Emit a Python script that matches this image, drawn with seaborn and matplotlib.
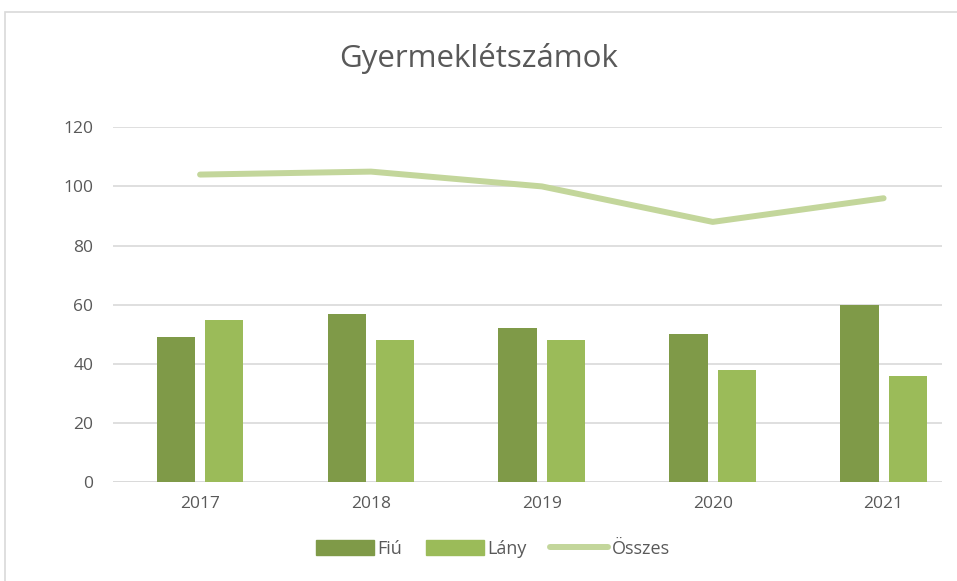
import numpy as np
import pandas as pd
import matplotlib.pyplot as plt
import seaborn as sns
from matplotlib.patches import Rectangle
from matplotlib.lines import Line2D

# Chart data
years = ["2017", "2018", "2019", "2020", "2021"]
fiu = [49, 57, 52, 50, 60]
lany = [55, 48, 48, 38, 36]
osszes = [104, 105, 100, 88, 96]

sns.set_style("white")
plt.rcParams['font.family'] = ['Open Sans', 'DejaVu Sans']
text_col = "#595959"

df = pd.DataFrame({
    "Év": years * 2,
    "Érték": fiu + lany,
    "Nem": ["Fiú"] * 5 + ["Lány"] * 5,
})

fig = plt.figure(figsize=(9.57, 5.81), dpi=100)
ax = fig.add_axes([0.118, 0.170, 0.866, 0.611])

sns.barplot(data=df, x="Év", y="Érték", hue="Nem", ax=ax,
            palette={"Fiú": "#7f9a48", "Lány": "#9bbb59"},
            width=0.566, gap=0.205, saturation=1, legend=False,
            linewidth=0, zorder=3)
sns.lineplot(x=np.arange(len(years)), y=osszes, ax=ax, color="#c3d69b",
             linewidth=4.3, solid_capstyle="round", zorder=4)

ax.set_ylim(0, 120)
ax.set_xlim(-0.51, 4.34)
ax.set_yticks(range(0, 121, 20))
ax.yaxis.grid(True, color="#d9d9d9", linewidth=1.2, zorder=0)
ax.set_axisbelow(True)
for s in ax.spines.values():
    s.set_visible(False)
ax.axhline(0, color="#d9d9d9", linewidth=1.2, zorder=1)
ax.set_xlabel("")
ax.set_ylabel("")
ax.tick_params(axis="both", length=0, labelsize=12.5, colors=text_col, pad=10)
ax.tick_params(axis="y", pad=14)

fig.text(0.5, 0.90, "Gyermeklétszámok", ha="center", va="center",
         fontsize=22.5, color=text_col)

handles = [
    Rectangle((0, 0), 1, 1, color="#7f9a48"),
    Rectangle((0, 0), 1, 1, color="#9bbb59"),
    Line2D([0], [0], color="#c3d69b", linewidth=4.3, solid_capstyle="round"),
]
fig.legend(handles, ["Fiú", "Lány", "Összes"], loc="center",
           bbox_to_anchor=(0.515, 0.055), ncol=3, frameon=False,
           fontsize=13, labelcolor=text_col, handlelength=3.2,
           handleheight=0.9, handletextpad=0.2, columnspacing=1.3)

# chart area border
fig.patches.append(Rectangle((0.005, -0.01), 1.0, 0.99, transform=fig.transFigure,
                             fill=False, edgecolor="#d9d9d9", linewidth=1.2))

fig.savefig("out.png", dpi=100)
